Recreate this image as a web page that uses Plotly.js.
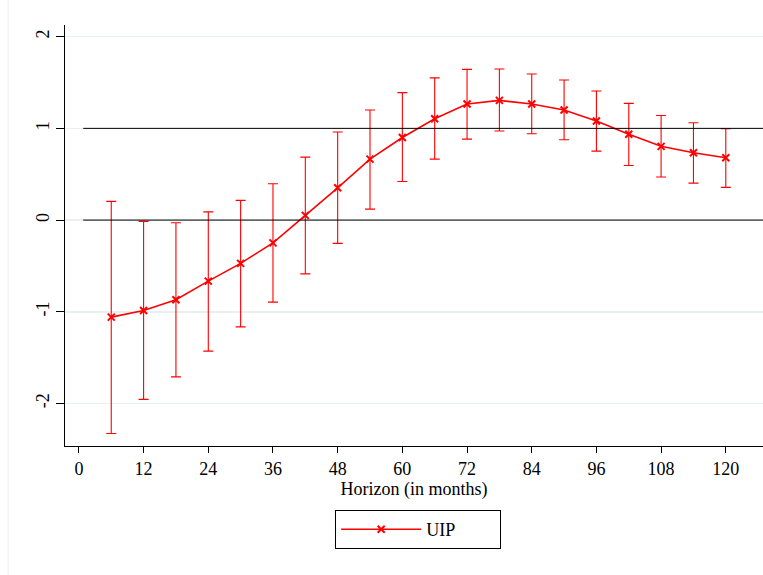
<!DOCTYPE html>
<html>
<head>
<meta charset="utf-8">
<script src="https://cdn.plot.ly/plotly-3.0.1.min.js"></script>
<style>html,body{margin:0;padding:0;background:#fff;}#chart{width:763px;height:575px;}</style>
</head>
<body>
<div id="chart"></div>
<script>
const horizons = [6,12,18,24,30,36,42,48,54,60,66,72,78,84,90,96,102,108,114,120];
const estimate = [-1.058,-0.985,-0.869,-0.665,-0.472,-0.248,0.051,0.352,0.665,0.900,1.105,1.265,1.305,1.265,1.200,1.080,0.935,0.804,0.734,0.679];
const upperCI  = [0.204,-0.014,-0.029,0.090,0.215,0.396,0.687,0.960,1.200,1.390,1.550,1.643,1.647,1.592,1.527,1.407,1.272,1.141,1.061,0.996];
const lowerCI  = [-2.326,-1.955,-1.709,-1.429,-1.164,-0.894,-0.586,-0.254,0.120,0.420,0.665,0.883,0.971,0.941,0.876,0.752,0.596,0.469,0.403,0.357];
const xTicks = [0,12,24,36,48,60,72,84,96,108,120];
const yTicks = [-2,-1,0,1,2];
const refLines = [0,1];
const seriesName = 'UIP';

const errPlus = upperCI.map((u,i)=>u-estimate[i]);
const errMinus = lowerCI.map((l,i)=>estimate[i]-l);

const trace = {
  x: horizons, y: estimate, type: 'scatter', mode: 'lines+markers', name: seriesName,
  line: {color: '#ff0000', width: 1.6},
  marker: {symbol: 'x-thin', size: 7, color: '#ff0000', line: {color: '#ff0000', width: 2}},
  error_y: {type: 'data', symmetric: false, array: errPlus, arrayminus: errMinus,
            color: '#ff0000', thickness: 1.1, width: 5}
};

const shapes = refLines.map(v => ({
  type: 'line', xref: 'x', yref: 'y', x0: 0.8, x1: 130, y0: v, y1: v,
  line: {color: '#000000', width: 1}, layer: 'above'
}));
shapes.push({type:'line', xref:'paper', yref:'paper', x0:-0.0815, x1:-0.0815, y0:1.06, y1:-0.31,
  line:{color:'#eeeeee', width:1}});

const layout = {
  width: 763, height: 575,
  margin: {l: 65, r: 0, t: 25, b: 129},
  paper_bgcolor: '#ffffff', plot_bgcolor: '#ffffff',
  font: {family: 'Liberation Serif, Times New Roman, serif', size: 18, color: '#000'},
  showlegend: true,
  xaxis: {
    range: [-2.58, 126.9], tickvals: xTicks, ticktext: xTicks.map(String),
    showgrid: false, zeroline: false, showline: true, linecolor: '#000', linewidth: 1,
    ticks: 'outside', ticklen: 6, tickcolor: '#000', tickwidth: 1,
    tickfont: {size: 18}, mirror: false,
    title: {text: 'Horizon (in months)', font: {size: 18}, standoff: 4}
  },
  yaxis: {
    range: [-2.463, 2.127], tickvals: yTicks, ticktext: yTicks.map(String),
    showgrid: true, gridcolor: '#eaf0f2', gridwidth: 1.5, zeroline: false,
    showline: true, linecolor: '#000', linewidth: 1,
    ticks: 'outside', ticklen: 8, tickcolor: '#000', tickwidth: 1,
    tickangle: -90, tickfont: {size: 18}
  },
  legend: {
    orientation: 'h', x: 0.506, xanchor: 'center', y: -0.152, yanchor: 'top',
    bordercolor: '#000', borderwidth: 1, bgcolor: '#fff', itemwidth: 80,
    entrywidth: 69, entrywidthmode: 'pixels',
    font: {size: 18}
  },
  shapes: shapes
};

Plotly.newPlot('chart', [trace], layout, {displayModeBar: false, staticPlot: true});
</script>
</body>
</html>
